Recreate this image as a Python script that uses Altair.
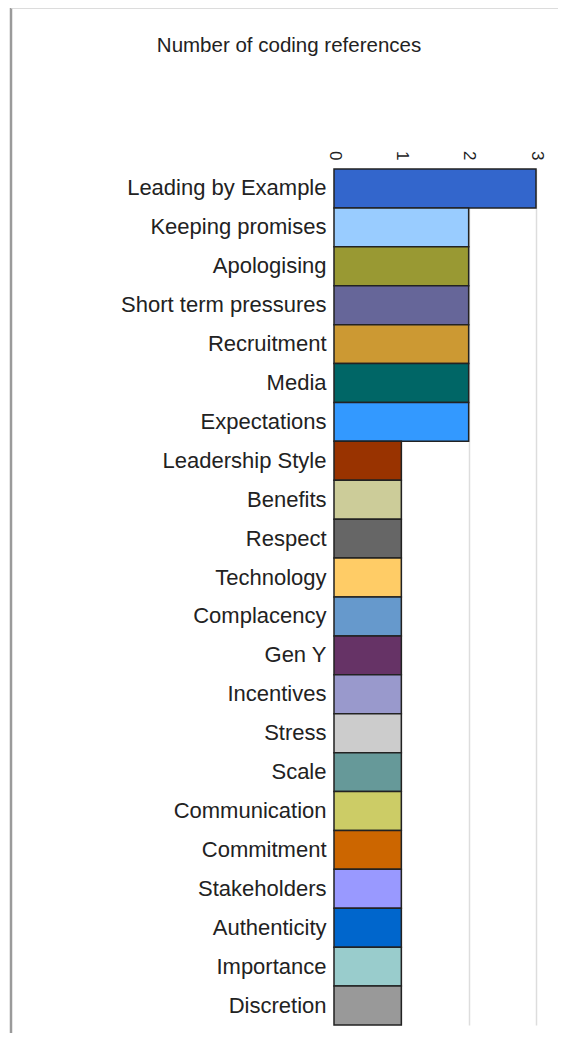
import altair as alt
import pandas as pd

title_text = "Number of coding references"
categories = ["Leading by Example", "Keeping promises", "Apologising", "Short term pressures",
              "Recruitment", "Media", "Expectations", "Leadership Style", "Benefits", "Respect",
              "Technology", "Complacency", "Gen Y", "Incentives", "Stress", "Scale",
              "Communication", "Commitment", "Stakeholders", "Authenticity", "Importance",
              "Discretion"]
values = [3, 2, 2, 2, 2, 2, 2, 1, 1, 1, 1, 1, 1, 1, 1, 1, 1, 1, 1, 1, 1, 1]
colors = ["#3366CC", "#99CCFF", "#999933", "#666699", "#CC9933", "#006666", "#3399FF",
          "#993300", "#CCCC99", "#666666", "#FFCC66", "#6699CC", "#663366", "#9999CC",
          "#CCCCCC", "#669999", "#CCCC66", "#CC6600", "#9999FF", "#0066CC", "#99CCCC",
          "#999999"]
tick_values = [0, 1, 2, 3]

df = pd.DataFrame({"category": categories, "value": values, "color": colors})
one = pd.DataFrame({"t": [title_text]})

FONT = "Liberation Sans"

bars = alt.Chart(df).mark_bar(stroke="#222222", strokeWidth=1.5).encode(
    y=alt.Y("category:N", sort=categories,
            scale=alt.Scale(paddingInner=0, paddingOuter=0),
            axis=alt.Axis(title=None, domain=False, ticks=False, labelPadding=8,
                          labelFontSize=22, labelFont=FONT, labelColor="#222222",
                          labelLimit=400)),
    x=alt.X("value:Q", scale=alt.Scale(domain=[0, 3], nice=False),
            axis=alt.Axis(orient="top", title=None, values=tick_values, format="d",
                          domain=False, ticks=False, grid=True, gridColor="#dddddd",
                          gridWidth=1.5, labelAngle=90, labelAlign="right",
                          labelBaseline="middle", labelPadding=9, labelFontSize=17,
                          labelFont=FONT, labelColor="#222222")),
    color=alt.Color("color:N", scale=None, legend=None),
)

title_mark = alt.Chart(one).mark_text(font=FONT, fontSize=20.5, color="#222222",
                                      align="center", baseline="middle").encode(
    x=alt.value(-45), y=alt.value(-123), text="t:N")

frame_left = alt.Chart(one).mark_rule(color="#9a9a9a", strokeWidth=2.5).encode(
    x=alt.value(-323), y=alt.value(-161), y2=alt.value(1032))
frame_top = alt.Chart(one).mark_rule(color="#d0d0d0", strokeWidth=1.5).encode(
    x=alt.value(-323), x2=alt.value(260), y=alt.value(-161))

chart = alt.layer(bars, title_mark, frame_left, frame_top).properties(
    width=202, height=856,
    padding={"left": 326, "top": 161, "right": 22, "bottom": 8},
    autosize=alt.AutoSizeParams(type="none"),
).configure_view(stroke=None)

chart.save("out.html", embed_options={"renderer": "svg", "actions": False})
